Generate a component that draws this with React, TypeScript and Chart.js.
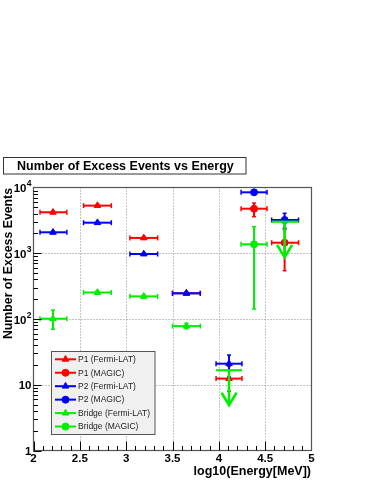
import React, { useEffect, useRef } from "react";
import { Chart, registerables } from "chart.js";

Chart.register(...registerables);

const W = 374;
const H = 484;
const FONT = '"Liberation Sans", Arial, Helvetica, sans-serif';

const chartTitle = "Number of Excess Events vs Energy";
const xAxisTitle = "log10(Energy[MeV])";
const yAxisTitle = "Number of Excess Events";

const xTickValues = [2, 2.5, 3, 3.5, 4, 4.5, 5];
const xTickLabels = ["2", "2.5", "3", "3.5", "4", "4.5", "5"];
const yTickValues = [1, 10, 100, 1000, 10000];
const yTickBase = ["1", "10", "10", "10", "10"];
const yTickExp = ["", "", "2", "3", "4"];

// Energy bins (log10 MeV)
const fermiX = [2.21, 2.69, 3.19, 3.65, 4.11];
const fermiXLow = [2.07, 2.54, 3.04, 3.5, 3.97];
const fermiXHigh = [2.36, 2.84, 3.34, 3.8, 4.25];
const magicX = [4.38, 4.71];
const magicXLow = [4.24, 4.57];
const magicXHigh = [4.52, 4.86];

// P1
const p1FermiY = [4200, 5300, 1710, 246, 12.4];
const p1FermiYLow = [4020, 5100, 1630, 236, 8];
const p1FermiYHigh = [4380, 5500, 1790, 256, 19];
const p1MagicY = [4760, 1446];
const p1MagicYLow = [3600, 543];
const p1MagicYHigh = [5810, 2300];

// P2
const p2FermiY = [2083, 2916, 974, 246, 20.9];
const p2FermiYLow = [1990, 2800, 930, 236, 13];
const p2FermiYHigh = [2180, 3030, 1020, 256, 28.3];
const p2MagicY = [8450, 3206];
const p2MagicYLow = [8000, 2400];
const p2MagicYHigh = [8900, 4053];

// Bridge (last Fermi point and last MAGIC point are upper limits)
const bridgeFermiY = [101, 253, 221, 78, 16.6];
const bridgeFermiYLow = [70, 238, 208, 71, null];
const bridgeFermiYHigh = [137, 268, 234, 86, null];
const bridgeFermiArrowTo = [null, null, null, null, 4.9];
const bridgeMagicY = [1368, 3020];
const bridgeMagicYLow = [142, null];
const bridgeMagicYHigh = [2535, null];
const bridgeMagicArrowTo = [null, 867];

const seriesNames = [
  "P1 (Fermi-LAT)",
  "P1 (MAGIC)",
  "P2 (Fermi-LAT)",
  "P2 (MAGIC)",
  "Bridge (Fermi-LAT)",
  "Bridge (MAGIC)",
];
const seriesColors = ["#ff0000", "#ff0000", "#0000ff", "#0000ff", "#00ee00", "#00ee00"];
const seriesMarkers = ["triangle", "circle", "triangle", "circle", "triangle", "circle"];
const seriesOrder = [3, 3, 2, 2, 1, 1];

type Series = {
  x: number[];
  xl: number[];
  xh: number[];
  y: number[];
  yl: (number | null)[];
  yh: (number | null)[];
  ul: (number | null)[];
};

const series: Series[] = [
  { x: fermiX, xl: fermiXLow, xh: fermiXHigh, y: p1FermiY, yl: p1FermiYLow, yh: p1FermiYHigh, ul: fermiX.map(() => null) },
  { x: magicX, xl: magicXLow, xh: magicXHigh, y: p1MagicY, yl: p1MagicYLow, yh: p1MagicYHigh, ul: magicX.map(() => null) },
  { x: fermiX, xl: fermiXLow, xh: fermiXHigh, y: p2FermiY, yl: p2FermiYLow, yh: p2FermiYHigh, ul: fermiX.map(() => null) },
  { x: magicX, xl: magicXLow, xh: magicXHigh, y: p2MagicY, yl: p2MagicYLow, yh: p2MagicYHigh, ul: magicX.map(() => null) },
  { x: fermiX, xl: fermiXLow, xh: fermiXHigh, y: bridgeFermiY, yl: bridgeFermiYLow, yh: bridgeFermiYHigh, ul: bridgeFermiArrowTo },
  { x: magicX, xl: magicXLow, xh: magicXHigh, y: bridgeMagicY, yl: bridgeMagicYLow, yh: bridgeMagicYHigh, ul: bridgeMagicArrowTo },
];

function line(ctx: CanvasRenderingContext2D, x1: number, y1: number, x2: number, y2: number) {
  ctx.beginPath();
  ctx.moveTo(x1, y1);
  ctx.lineTo(x2, y2);
  ctx.stroke();
}

function drawMarker(ctx: CanvasRenderingContext2D, kind: string, x: number, y: number, r: number, color: string) {
  ctx.save();
  ctx.fillStyle = color;
  ctx.strokeStyle = color;
  ctx.lineWidth = 1;
  ctx.beginPath();
  if (kind === "circle") {
    ctx.arc(x, y, r, 0, Math.PI * 2);
  } else {
    const a = (2 * Math.PI) / 3;
    for (let i = 0; i < 3; i++) {
      const px = x + Math.sin(a * i) * r;
      const py = y - Math.cos(a * i) * r;
      if (i === 0) ctx.moveTo(px, py);
      else ctx.lineTo(px, py);
    }
    ctx.closePath();
  }
  ctx.fill();
  ctx.stroke();
  ctx.restore();
}

const rootPlugin = {
  id: "rootStyle",
  beforeDraw(chart: any) {
    const ctx = chart.ctx as CanvasRenderingContext2D;
    ctx.save();
    ctx.fillStyle = "#ffffff";
    ctx.fillRect(0, 0, chart.width, chart.height);
    // title box
    ctx.fillStyle = "#ffffff";
    ctx.fillRect(3.5, 157.5, 242.5, 16.5);
    ctx.strokeStyle = "#333";
    ctx.lineWidth = 1;
    ctx.strokeRect(3.5, 157.5, 242.5, 16.5);
    ctx.fillStyle = "#000";
    ctx.font = `bold 12.5px ${FONT}`;
    ctx.textAlign = "left";
    ctx.textBaseline = "middle";
    ctx.fillText(chartTitle, 17, 166.5);
    ctx.restore();
  },
  beforeDatasetsDraw(chart: any) {
    const ctx = chart.ctx as CanvasRenderingContext2D;
    const a = chart.chartArea;
    const xs = chart.scales.x;
    const ys = chart.scales.y;
    ctx.save();
    ctx.strokeStyle = "#8a8a8a";
    ctx.lineWidth = 1;
    ctx.setLineDash([1, 2]);
    for (const v of xTickValues) {
      if (v <= xs.min || v >= xs.max) continue;
      const px = Math.round(xs.getPixelForValue(v)) + 0.5;
      line(ctx, px, a.top, px, a.bottom);
    }
    for (const v of yTickValues) {
      if (v <= ys.min || v >= ys.max) continue;
      const py = Math.round(ys.getPixelForValue(v)) + 0.5;
      line(ctx, a.left, py, a.right, py);
    }
    ctx.restore();
  },
  beforeDatasetDraw(chart: any, args: any) {
    const ctx = chart.ctx as CanvasRenderingContext2D;
    const xs = chart.scales.x;
    const ys = chart.scales.y;
    const s = series[args.index];
    const color = seriesColors[args.index];
    if (!s) return;
    ctx.save();
    ctx.strokeStyle = color;
    ctx.fillStyle = color;
    ctx.lineCap = "butt";
    for (let i = 0; i < s.x.length; i++) {
      const px = xs.getPixelForValue(s.x[i]);
      const py = ys.getPixelForValue(s.y[i]);
      const pxl = xs.getPixelForValue(s.xl[i]);
      const pxh = xs.getPixelForValue(s.xh[i]);
      const ul = s.ul[i];
      if (ul != null) {
        ctx.lineWidth = 2.2;
        line(ctx, pxl, py, pxh, py);
        const tip = ys.getPixelForValue(ul);
        ctx.lineWidth = 2.6;
        line(ctx, px, py, px, tip);
        ctx.lineJoin = "miter";
        ctx.beginPath();
        ctx.moveTo(px - 7.5, tip - 12.5);
        ctx.lineTo(px, tip);
        ctx.lineTo(px + 7.5, tip - 12.5);
        ctx.stroke();
        continue;
      }
      ctx.lineWidth = 2;
      line(ctx, pxl, py, pxh, py);
      ctx.lineWidth = 1.5;
      line(ctx, pxl, py - 2.5, pxl, py + 2.5);
      line(ctx, pxh, py - 2.5, pxh, py + 2.5);
      const yl = s.yl[i];
      const yh = s.yh[i];
      if (yl != null && yh != null) {
        const pyl = ys.getPixelForValue(yl);
        const pyh = ys.getPixelForValue(yh);
        ctx.lineWidth = 2;
        line(ctx, px, pyl, px, pyh);
        ctx.lineWidth = 1.5;
        line(ctx, px - 2, pyl, px + 2, pyl);
        line(ctx, px - 2, pyh, px + 2, pyh);
      }
    }
    ctx.restore();
  },
  afterDatasetsDraw(chart: any) {
    const ctx = chart.ctx as CanvasRenderingContext2D;
    const a = chart.chartArea;
    const xs = chart.scales.x;
    const ys = chart.scales.y;
    ctx.save();
    // frame
    ctx.strokeStyle = "#555";
    ctx.lineWidth = 1.2;
    ctx.strokeRect(a.left, a.top, a.right - a.left, a.bottom - a.top);

    // ticks
    ctx.strokeStyle = "#000";
    ctx.lineWidth = 1;
    for (let d = 0; d < yTickValues.length - 1; d++) {
      const base = yTickValues[d];
      for (let k = 1; k <= 9; k++) {
        const py = Math.round(ys.getPixelForValue(base * k)) + 0.5;
        const len = k === 1 ? 8 : 4.5;
        line(ctx, a.left, py, a.left + len, py);
      }
    }
    for (let j = 0; j < xTickValues.length - 1; j++) {
      const v0 = xTickValues[j];
      const v1 = xTickValues[j + 1];
      for (let k = 0; k < 5; k++) {
        const v = v0 + ((v1 - v0) * k) / 5;
        const px = Math.round(xs.getPixelForValue(v)) + 0.5;
        const len = k === 0 ? 9 : 4.5;
        line(ctx, px, a.bottom, px, a.bottom - len);
      }
    }

    // tick labels
    ctx.fillStyle = "#000";
    ctx.textBaseline = "middle";
    ctx.textAlign = "center";
    ctx.font = `bold 11.5px ${FONT}`;
    xTickValues.forEach((v, i) => {
      const px = xs.getPixelForValue(v);
      ctx.fillText(xTickLabels[i], px, 459);
    });
    yTickValues.forEach((v, i) => {
      const py = ys.getPixelForValue(v) + 1.5;
      const right = 31.5;
      ctx.textAlign = "right";
      if (yTickExp[i]) {
        ctx.font = `bold 8.5px ${FONT}`;
        const ew = ctx.measureText(yTickExp[i]).width;
        ctx.fillText(yTickExp[i], right, py - 5);
        ctx.font = `bold 11.5px ${FONT}`;
        ctx.fillText(yTickBase[i], right - ew - 0.3, py);
      } else {
        ctx.font = `bold 11.5px ${FONT}`;
        ctx.fillText(yTickBase[i], right, py);
      }
    });

    // axis titles
    ctx.font = `bold 12.5px ${FONT}`;
    ctx.textAlign = "right";
    ctx.fillText(xAxisTitle, 311, 472);
    ctx.save();
    ctx.translate(8.5, 188);
    ctx.rotate(-Math.PI / 2);
    ctx.font = `bold 12.3px ${FONT}`;
    ctx.textAlign = "right";
    ctx.textBaseline = "middle";
    ctx.fillText(yAxisTitle, 0, 0);
    ctx.restore();

    // legend
    const lx = 51.5, ly = 351.5, lw = 103.5, lh = 83;
    ctx.fillStyle = "#f0f0f0";
    ctx.fillRect(lx, ly, lw, lh);
    ctx.strokeStyle = "#555";
    ctx.lineWidth = 1;
    ctx.strokeRect(lx, ly, lw, lh);
    ctx.font = `8.5px ${FONT}`;
    ctx.textAlign = "left";
    ctx.textBaseline = "middle";
    seriesNames.forEach((name, i) => {
      const ey = 359.3 + i * 13.45;
      const c = seriesColors[i];
      ctx.strokeStyle = c;
      ctx.lineWidth = 2;
      line(ctx, 55, ey, 76, ey);
      drawMarker(ctx, seriesMarkers[i], 65.5, ey, seriesMarkers[i] === "circle" ? 3.5 : 3.8, c);
      ctx.fillStyle = "#222";
      ctx.fillText(name, 78, ey + 0.5);
    });
    ctx.restore();
  },
};

export default function App() {
  const ref = useRef<HTMLCanvasElement | null>(null);
  useEffect(() => {
    const canvas = ref.current;
    if (!canvas) return;
    const datasets = series.map((s, i) => ({
      label: seriesNames[i],
      data: s.x.map((x, j) => ({ x, y: s.y[j] })),
      pointStyle: seriesMarkers[i],
      pointRadius: s.ul.map((u) => (u != null ? 0 : seriesMarkers[i] === "circle" ? 3.5 : 3.8)),
      pointBorderWidth: 1,
      backgroundColor: seriesColors[i],
      borderColor: seriesColors[i],
      showLine: false,
      order: seriesOrder[i],
    }));
    const chart = new Chart(canvas, {
      type: "scatter",
      data: { datasets } as any,
      options: {
        animation: false,
        responsive: false,
        devicePixelRatio: 1,
        layout: { padding: { left: 33.5, right: 62.5, top: 187.5, bottom: 33.5 } },
        scales: {
          x: { type: "linear", min: 2, max: 5, display: false },
          y: { type: "logarithmic", min: 1, max: 10000, display: false },
        },
        plugins: {
          legend: { display: false },
          tooltip: { enabled: false },
          title: { display: false },
        },
        events: [],
      },
      plugins: [rootPlugin as any],
    });
    return () => chart.destroy();
  }, []);
  return (
    <div style={{ position: "fixed", left: 0, top: 0, width: W, height: H, background: "#fff" }}>
      <canvas ref={ref} width={W} height={H} style={{ width: W, height: H, display: "block" }} />
    </div>
  );
}
